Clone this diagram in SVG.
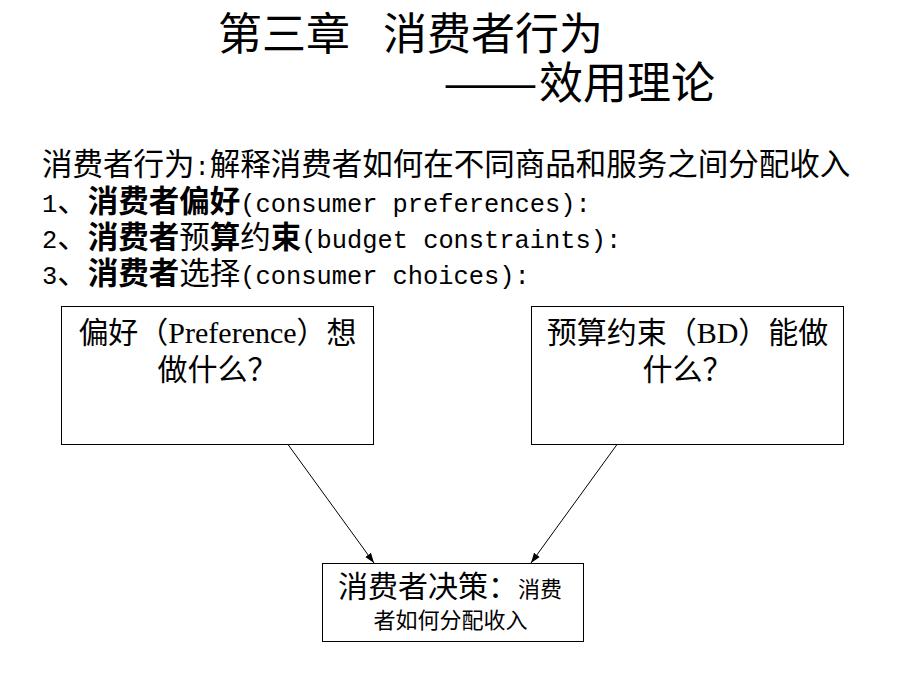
<svg xmlns="http://www.w3.org/2000/svg" width="920" height="690" viewBox="0 0 920 690">
  <defs>
    <style>
      .cjk { font-family: "Noto Sans CJK SC", sans-serif; fill: #000; }
      .mono { font-family: "Liberation Mono", "Noto Sans CJK SC", monospace; fill: #000; font-size: 25.4px; }
      .title { font-size: 44px; }
      .body { font-size: 30.5px; }
      .b { font-weight: bold; }
      .boxtxt { font-family: "Liberation Serif", "Noto Sans CJK SC", serif; font-size: 30px; fill: #000; }
      .small { font-size: 22px; }
      .node rect { fill: #fff; stroke: #000; stroke-width: 1; }
      .conn line { stroke: #000; stroke-width: 1; fill: none; marker-end: url(#arr); }
    </style>
    <marker id="arr" viewBox="0 0 10 10" refX="10" refY="5" markerWidth="10" markerHeight="10" markerUnits="userSpaceOnUse" orient="auto">
      <path d="M0,1.5 L10,5 L0,8.5 Z" fill="#000"/>
    </marker>
  </defs>
  <rect width="920" height="690" fill="#fff"/>

  <g id="title">
    <text class="cjk title" x="218" y="50">第三章</text>
    <text class="cjk title" x="383" y="50">消费者行为</text>
    <text class="cjk title" x="443" y="99" textLength="95" lengthAdjust="spacingAndGlyphs">——</text>
    <text class="cjk title" x="539" y="99">效用理论</text>
  </g>

  <g id="body">
    <text class="cjk body" x="42" y="175">消费者行为</text>
    <text class="mono" x="194.5" y="175">:</text>
    <text class="cjk body" x="209.75" y="175">解释消费者如何在不同商品和服务之间分配收入</text>

    <text class="mono" x="42" y="212">1</text>
    <text class="cjk body" x="57.25" y="212">、</text>
    <text class="cjk body b" x="87.75" y="212">消费者偏好</text>
    <text class="mono" x="240.25" y="212">(consumer preferences):</text>

    <text class="mono" x="42" y="248">2</text>
    <text class="cjk body" x="57.25" y="248">、</text>
    <text class="cjk body" x="87.75" y="248"><tspan class="b">消费者</tspan>预<tspan class="b">算</tspan>约<tspan class="b">束</tspan></text>
    <text class="mono" x="301.25" y="248">(budget constraints):</text>

    <text class="mono" x="42" y="284">3</text>
    <text class="cjk body" x="57.25" y="284">、</text>
    <text class="cjk body" x="87.75" y="284"><tspan class="b">消费者</tspan>选择</text>
    <text class="mono" x="240.25" y="284">(consumer choices):</text>
  </g>

  <g id="preference" class="node">
    <rect x="61.5" y="306.5" width="312" height="138"/>
    <text class="boxtxt" x="217.5" y="343" text-anchor="middle">偏好（Preference）想</text>
    <text class="boxtxt" x="217.5" y="380" text-anchor="middle">做什么？</text>
  </g>

  <g id="budget" class="node">
    <rect x="531.5" y="306.5" width="312" height="138"/>
    <text class="boxtxt" x="687.5" y="343" text-anchor="middle">预算约束（BD）能做</text>
    <text class="boxtxt" x="687.5" y="380" text-anchor="middle">什么？</text>
  </g>

  <g id="decision" class="node">
    <rect x="322.5" y="563.5" width="261" height="78"/>
    <text class="boxtxt" x="338" y="597">消费者决策：<tspan class="small">消费</tspan></text>
    <text class="boxtxt small" x="450.5" y="628" text-anchor="middle">者如何分配收入</text>
  </g>

  <g id="connectors" class="conn">
    <line x1="288" y1="444.5" x2="374" y2="563"/>
    <line x1="617" y1="444.5" x2="531" y2="563"/>
  </g>
</svg>
